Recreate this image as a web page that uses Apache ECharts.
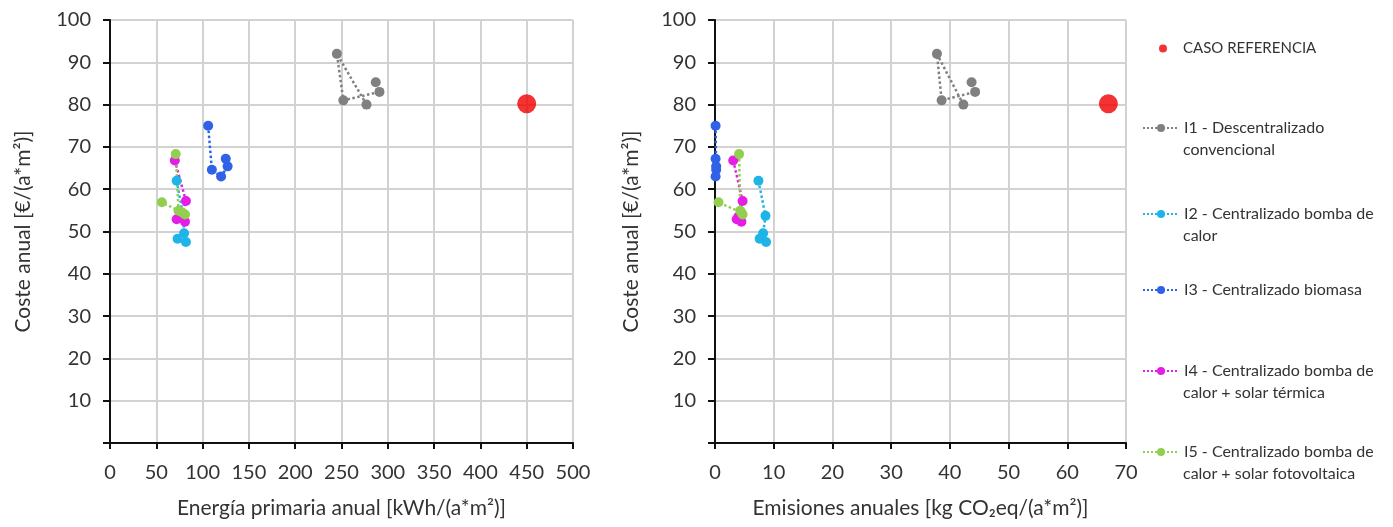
<!DOCTYPE html>
<html>
<head>
<meta charset="UTF-8">
<title>Coste anual vs energía y emisiones</title>
<script src="https://cdn.jsdelivr.net/npm/echarts@6/dist/echarts.min.js"></script>
<style>
  html, body { margin: 0; padding: 0; background: #fff; }
  #chart { width: 1393px; height: 527px; }
</style>
</head>
<body>
<div id="chart"></div>
<script>
// ---- data ----
const seriesNames = [
  "I1 - Descentralizado convencional",
  "I2 - Centralizado bomba de calor",
  "I3 - Centralizado biomasa",
  "I4 - Centralizado bomba de calor + solar térmica",
  "I5 - Centralizado bomba de calor + solar fotovoltaica",
];
// legend text, first and second line
const legendLine1 = [
  "I1 - Descentralizado",
  "I2 - Centralizado bomba de",
  "I3 - Centralizado biomasa",
  "I4 - Centralizado bomba de",
  "I5 - Centralizado bomba de",
];
const legendLine2 = ["convencional", "calor", "", "calor + solar térmica", "calor + solar fotovoltaica"];
const colors = ["#808080", "#1fb4e8", "#2f62e6", "#e41ee4", "#93cf4f"];

// energía primaria anual [kWh/(a*m2)]
const energyI1 = [277, 245, 252, 291, 287];
const energyI2 = [72, 79, 80, 73, 82];
const energyI3 = [106, 110, 120, 127, 125];
const energyI4 = [70, 82, 77, 72, 81];
const energyI5 = [71, 74, 81, 78, 56];

// emisiones anuales [kg CO2eq/(a*m2)]
const emisI1 = [42.3, 37.8, 38.6, 44.3, 43.7];
const emisI2 = [7.4, 8.6, 8.2, 7.6, 8.7];
const emisI3 = [0.1, 0.2, 0.1, 0.2, 0.1];
const emisI4 = [3.1, 4.7, 4.0, 3.7, 4.5];
const emisI5 = [4.1, 4.3, 4.7, 4.5, 0.6];

// coste anual [€/(a*m2)]
const costI1 = [80, 92, 81, 83, 85.3];
const costI2 = [62, 53.7, 49.6, 48.3, 47.5];
const costI3 = [75, 64.6, 63.0, 65.4, 67.2];
const costI4 = [66.8, 57.2, 53.5, 52.9, 52.3];
const costI5 = [68.3, 54.9, 54.0, 54.5, 56.9];

const refName = "CASO REFERENCIA";
const refEnergy = [450];
const refEmis = [67];
const refCost = [80.2];

const energy = [energyI1, energyI2, energyI3, energyI4, energyI5];
const emis = [emisI1, emisI2, emisI3, emisI4, emisI5];
const cost = [costI1, costI2, costI3, costI4, costI5];

const energyTicks = { min: 0, max: 500, interval: 50 };
const emisTicks = { min: 0, max: 70, interval: 10 };
const costTicks = { min: 0, max: 100, interval: 10 };

// ---- chart ----
const FONT = "Lato";
const TXT = "#333";
const chart = echarts.init(document.getElementById("chart"));

const pair = (xs, ys) => xs.map((x, i) => [x, ys[i]]);

function xAxisCfg(gridIndex, ticks, name) {
  return {
    type: "value",
    gridIndex,
    min: ticks.min,
    max: ticks.max,
    interval: ticks.interval,
    name,
    nameLocation: "middle",
    nameGap: 55,
    nameTextStyle: { fontFamily: FONT, fontSize: 21, color: TXT },
    axisLine: { show: true, onZero: false, lineStyle: { color: "#111", width: 2 } },
    axisTick: { show: true, inside: false, length: 6, lineStyle: { color: "#111", width: 2 } },
    axisLabel: { fontFamily: FONT, fontSize: 20, color: TXT, margin: 20 },
    splitLine: { show: true, lineStyle: { color: "#d2d2d2", width: 2 } },
  };
}

function yAxisCfg(gridIndex, nameGap) {
  return {
    type: "value",
    gridIndex,
    min: costTicks.min,
    max: costTicks.max,
    interval: costTicks.interval,
    name: "Coste anual [€/(a*m²)]",
    nameLocation: "middle",
    nameGap,
    nameTextStyle: { fontFamily: FONT, fontSize: 21, color: TXT },
    axisLine: { show: true, onZero: false, lineStyle: { color: "#111", width: 2 } },
    axisTick: { show: true, inside: false, length: 7, lineStyle: { color: "#111", width: 2 } },
    axisLabel: {
      fontFamily: FONT, fontSize: 20, color: TXT, margin: 19,
      formatter: (v) => (v === 0 ? "" : v),
    },
    splitLine: { show: true, lineStyle: { color: "#d2d2d2", width: 2 } },
  };
}

const series = [];
[0, 1].forEach((g) => {
  seriesNames.forEach((name, i) => {
    series.push({
      name,
      type: "line",
      xAxisIndex: g,
      yAxisIndex: g,
      data: pair(g === 0 ? energy[i] : emis[i], cost[i]),
      symbol: "circle",
      symbolSize: 10,
      showSymbol: true,
      color: colors[i],
      itemStyle: { color: colors[i] },
      lineStyle: { color: colors[i], width: 2.5, type: "dotted" },
      animation: false,
    });
  });
  series.push({
    name: refName,
    type: "scatter",
    xAxisIndex: g,
    yAxisIndex: g,
    data: pair(g === 0 ? refEnergy : refEmis, refCost),
    symbol: "circle",
    symbolSize: 19,
    itemStyle: { color: "#f00000" },
    animation: false,
  });
});

// one legend block per entry, placed like in the picture; second lines as plain text
const legendY = [128, 214, 290, 371, 452];
const LEG_FS = 16;
const LEG_LH = 22;
const legends = [
  {
    data: [refName],
    left: 1159,
    top: 48 - 7,
    padding: 0,
    icon: "circle",
    itemWidth: 8,
    itemHeight: 8,
    selectedMode: false,
    textStyle: { fontFamily: FONT, fontSize: 15, lineHeight: 14, color: TXT, padding: [0, 0, 0, 11] },
  },
];
const graphics = [];
seriesNames.forEach((name, i) => {
  legends.push({
    data: [name],
    left: 1142,
    top: legendY[i] - 8,
    padding: 0,
    itemWidth: 36,
    itemHeight: 10,
    selectedMode: false,
    formatter: () => legendLine1[i],
    textStyle: { fontFamily: FONT, fontSize: LEG_FS, lineHeight: 16, color: TXT },
  });
  if (legendLine2[i]) {
    graphics.push({
      type: "text",
      x: 1183,
      y: legendY[i] + LEG_LH,
      style: {
        text: legendLine2[i],
        fontFamily: FONT,
        fontSize: LEG_FS,
        fill: TXT,
        verticalAlign: "middle",
      },
    });
  }
});

chart.setOption({
  animation: false,
  backgroundColor: "#fff",
  grid: [
    { left: 110, top: 20, width: 463, height: 423 },
    { left: 715, top: 20, width: 411, height: 423 },
  ],
  xAxis: [
    xAxisCfg(0, energyTicks, "Energía primaria anual [kWh/(a*m²)]"),
    xAxisCfg(1, emisTicks, "Emisiones anuales [kg CO₂eq/(a*m²)]"),
  ],
  yAxis: [yAxisCfg(0, 76), yAxisCfg(1, 73)],
  legend: legends,
  graphic: graphics,
  series,
});
</script>
</body>
</html>
